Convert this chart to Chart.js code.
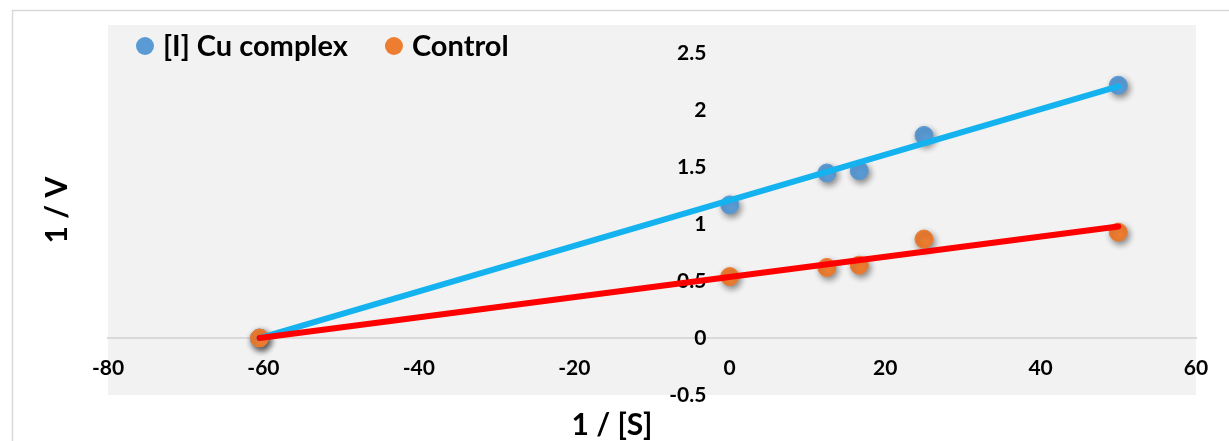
<!DOCTYPE html>
<html>
<head>
<meta charset="utf-8">
<script src="https://cdn.jsdelivr.net/npm/chart.js@4.4.1/dist/chart.umd.min.js"></script>
<style>
  html, body { margin: 0; padding: 0; background: #ffffff; }
  #wrap { width: 1229px; height: 441px; }
</style>
</head>
<body>
<div id="wrap"><canvas id="lb" width="1229" height="441"></canvas></div>
<script>
// Lineweaver–Burk data: 1/[S] against 1/V
const substrateInv = [-60.5, 0, 12.5, 16.67, 25, 50];
const cuComplexInvV = [0, 1.17, 1.45, 1.47, 1.78, 2.22];
const controlInvV = [0, 0.54, 0.62, 0.64, 0.87, 0.93];

// fitted straight lines, x-intercept to last point
const trendX = [-60.5, 50];
const cuComplexTrend = [0, 2.21];
const controlTrend = [0, 0.98];

const xTicks = [-80, -60, -40, -20, 0, 20, 40, 60];
const yTicks = [-0.5, 0, 0.5, 1, 1.5, 2, 2.5];

const seriesNames = ['[I] Cu complex', 'Control'];

const pairs = (xs, ys) => xs.map((x, i) => ({ x: x, y: ys[i] }));

const FONT = 'Lato, "Open Sans", "Liberation Sans", sans-serif';

// white page, thin outer frame and grey plot panel
const panelPlugin = {
  id: 'panel',
  beforeDraw(chart) {
    const { ctx, chartArea } = chart;
    ctx.save();
    ctx.fillStyle = '#ffffff';
    ctx.fillRect(0, 0, chart.width, chart.height);
    ctx.strokeStyle = '#D9D9D9';
    ctx.lineWidth = 1.5;
    ctx.beginPath();
    ctx.moveTo(12.5, chart.height);
    ctx.lineTo(12.5, 10.5);
    ctx.lineTo(chart.width, 10.5);
    ctx.stroke();
    ctx.fillStyle = '#F2F2F2';
    ctx.fillRect(chartArea.left, chartArea.top,
                 chartArea.right - chartArea.left, chartArea.bottom - chartArea.top);
    ctx.restore();
  }
};

// soft drop shadow under the markers
const shadowPlugin = {
  id: 'markerShadow',
  beforeDatasetDraw(chart, args) {
    if (chart.data.datasets[args.index].showLine) return;
    const ctx = chart.ctx;
    ctx.save();
    ctx.shadowColor = 'rgba(0,0,0,0.45)';
    ctx.shadowBlur = 6;
    ctx.shadowOffsetX = 2;
    ctx.shadowOffsetY = 3;
  },
  afterDatasetDraw(chart, args) {
    if (chart.data.datasets[args.index].showLine) return;
    chart.ctx.restore();
  }
};

// one-row series key sitting inside the top-left of the panel
const seriesKeyPlugin = {
  id: 'seriesKey',
  afterDraw(chart, args, opts) {
    const { ctx, chartArea } = chart;
    const byName = {};
    chart.data.datasets.forEach(ds => { byName[ds.label] = ds; });
    ctx.save();
    ctx.font = 'bold ' + opts.fontSize + 'px ' + FONT;
    ctx.textBaseline = 'middle';
    ctx.textAlign = 'left';
    let cx = chartArea.left + opts.offsetX;
    const cy = chartArea.top + opts.offsetY;
    seriesNames.forEach(name => {
      const ds = byName[name];
      ctx.fillStyle = ds.backgroundColor;
      ctx.beginPath();
      ctx.arc(cx, cy, opts.radius, 0, Math.PI * 2);
      ctx.fill();
      ctx.fillStyle = '#000000';
      const tx = cx + opts.textGap;
      ctx.fillText(name, tx, cy + 1);
      cx = tx + ctx.measureText(name).width + opts.itemGap;
    });
    ctx.restore();
  }
};

new Chart(document.getElementById('lb'), {
  type: 'scatter',
  data: {
    datasets: [
      {
        label: 'Control fit',
        data: pairs(trendX, controlTrend),
        showLine: true,
        borderColor: '#FF0000',
        borderWidth: 6,
        borderCapStyle: 'round',
        pointRadius: 0,
        fill: false
      },
      {
        label: 'Cu complex fit',
        data: pairs(trendX, cuComplexTrend),
        showLine: true,
        borderColor: '#14B3EF',
        borderWidth: 6,
        borderCapStyle: 'round',
        pointRadius: 0,
        fill: false
      },
      {
        label: seriesNames[1],
        data: pairs(substrateInv, controlInvV),
        backgroundColor: '#ED7D31',
        borderColor: '#ED7D31',
        borderWidth: 1,
        pointRadius: 9,
        pointStyle: 'circle'
      },
      {
        label: seriesNames[0],
        data: pairs(substrateInv, cuComplexInvV),
        backgroundColor: '#5B9BD5',
        borderColor: '#5B9BD5',
        borderWidth: 1,
        pointRadius: 9,
        pointStyle: 'circle'
      }
    ]
  },
  options: {
    responsive: false,
    animation: false,
    devicePixelRatio: 1,
    layout: { padding: { left: 28, right: 33, top: 25, bottom: 1 } },
    scales: {
      x: {
        type: 'linear',
        min: -80,
        max: 60,
        position: { y: 0 },
        afterBuildTicks(scale) { scale.ticks = xTicks.map(v => ({ value: v })); },
        afterFit(scale) {
          scale.height = 0;
          scale.paddingLeft = 0; scale.paddingRight = 0;
          scale.paddingTop = 0; scale.paddingBottom = 0;
        },
        grid: { display: false, drawTicks: false },
        border: { display: true, color: '#D9D9D9', width: 2 },
        ticks: {
          padding: 18,
          maxRotation: 0,
          autoSkip: false,
          color: '#000000',
          font: { family: FONT, size: 21, weight: 'bold' },
          callback: (v) => String(v)
        }
      },
      y: {
        type: 'linear',
        min: -0.5,
        max: 2.75,
        position: { x: -3 },
        afterBuildTicks(scale) { scale.ticks = yTicks.map(v => ({ value: v })); },
        afterFit(scale) {
          scale.width = 0;
          scale.paddingLeft = 0; scale.paddingRight = 0;
          scale.paddingTop = 0; scale.paddingBottom = 0;
        },
        grid: { display: false, drawTicks: false },
        border: { display: false },
        ticks: {
          padding: 0,
          autoSkip: false,
          color: '#000000',
          font: { family: FONT, size: 21, weight: 'bold' },
          callback: (v) => String(v)
        }
      },
      yTitle: {
        type: 'linear',
        position: 'left',
        display: true,
        grid: { display: false, drawTicks: false },
        border: { display: false },
        ticks: { display: false },
        title: {
          display: true,
          text: '1 / V',
          color: '#000000',
          font: { family: FONT, size: 30, weight: 'bold', lineHeight: 1 },
          padding: { top: 14, bottom: 36 }
        }
      }
    },
    plugins: {
      legend: { display: false },
      seriesKey: {
        fontSize: 29,
        radius: 9,
        offsetX: 37,
        offsetY: 21,
        textGap: 18,
        itemGap: 46
      },
      title: {
        display: true,
        position: 'bottom',
        text: '1 / [S]',
        color: '#000000',
        font: { family: FONT, size: 30, weight: 'bold', lineHeight: 1 },
        padding: { top: 15, bottom: 0 }
      },
      tooltip: { enabled: false }
    }
  },
  plugins: [panelPlugin, shadowPlugin, seriesKeyPlugin]
});
</script>
</body>
</html>
